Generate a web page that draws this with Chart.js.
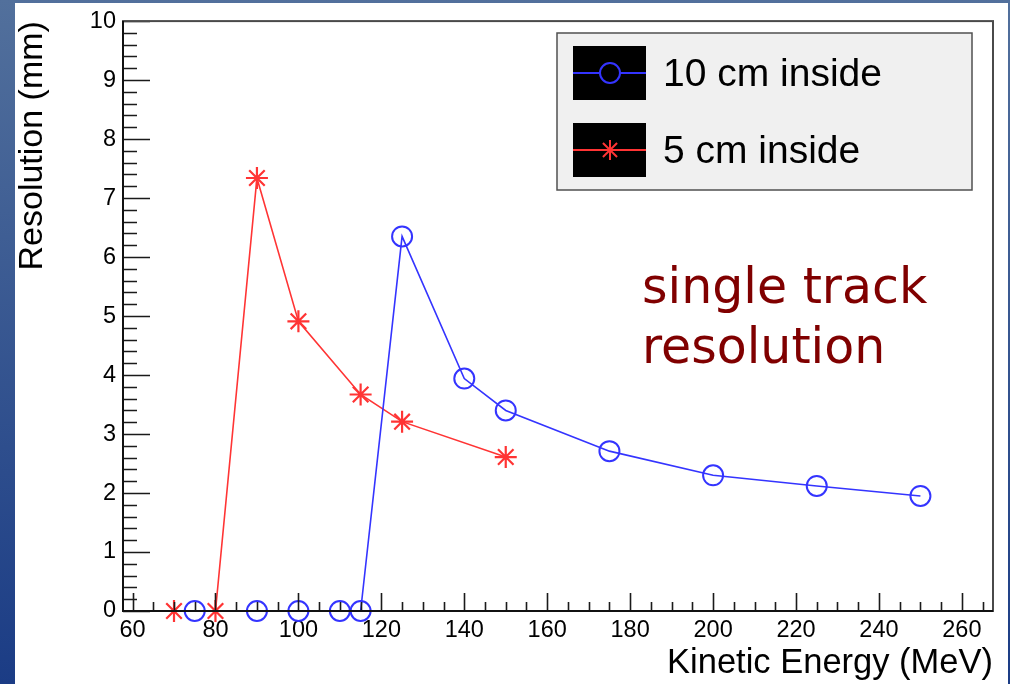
<!DOCTYPE html>
<html>
<head>
<meta charset="utf-8">
<title>Single track resolution</title>
<script src="https://cdn.jsdelivr.net/npm/chart.js@4.4.1/dist/chart.umd.min.js"></script>
<style>
  html, body {
    margin: 0;
    padding: 0;
    width: 1010px;
    height: 684px;
    overflow: hidden;
    background: linear-gradient(to bottom, #52709c, #1b3c85);
  }
  #page {
    position: absolute;
    left: 15px;
    top: 3px;
    width: 993px;
    height: 681px;
    background: #ffffff;
  }
  #resolution-chart {
    position: absolute;
    left: 0;
    top: 0;
  }
</style>
</head>
<body>
<div id="page"></div>
<canvas id="resolution-chart" width="1010" height="684"></canvas>
<script>
// 10 cm inside
const energy10 = [75, 90, 100, 110, 115, 125, 140, 150, 175, 200, 225, 250];
const res10 = [0, 0, 0, 0, 0, 6.35, 3.94, 3.40, 2.71, 2.30, 2.12, 1.95];

// 5 cm inside
const energy5 = [70, 80, 90, 100, 115, 125, 150];
const res5 = [0, 0, 7.34, 4.91, 3.67, 3.21, 2.61];

const xTicks = [60, 80, 100, 120, 140, 160, 180, 200, 220, 240, 260];
const yTicks = [0, 1, 2, 3, 4, 5, 6, 7, 8, 9, 10];
const xMinorStep = 5;
const yMinorStep = 0.2;

const seriesNames = ['10 cm inside', '5 cm inside'];
const noteLines = ['single track', 'resolution'];

const blue = '#3434ff';
const red = '#ff3434';
const axisFont = '"Liberation Sans", Arial, Helvetica, sans-serif';

function toPoints(xs, ys) {
  return xs.map((x, i) => ({ x: x, y: ys[i] }));
}

// ROOT style frame with inward ticks
const rootFrame = {
  id: 'rootFrame',
  afterDatasetsDraw(chart) {
    const { ctx, chartArea: a, scales: { x, y } } = chart;
    ctx.save();
    ctx.strokeStyle = '#1a1a1a';
    ctx.lineWidth = 1.6;
    ctx.beginPath();
    for (let v = xTicks[0]; v <= x.max; v += xMinorStep) {
      const px = Math.round(x.getPixelForValue(v)) + 0.5;
      const len = xTicks.includes(v) ? 18 : 9;
      ctx.moveTo(px, a.bottom);
      ctx.lineTo(px, a.bottom - len);
    }
    for (let i = 0; i <= Math.round((y.max - y.min) / yMinorStep); i++) {
      const v = y.min + i * yMinorStep;
      const py = Math.round(y.getPixelForValue(v)) + 0.5;
      const len = Math.abs(v - Math.round(v)) < 1e-6 ? 27 : 14;
      ctx.moveTo(a.left, py);
      ctx.lineTo(a.left + len, py);
    }
    ctx.stroke();

    ctx.lineWidth = 2;
    ctx.strokeStyle = '#4a4a4a';
    ctx.strokeRect(a.left, a.top, a.right - a.left, a.bottom - a.top);
    ctx.strokeStyle = '#111111';
    ctx.beginPath();
    ctx.moveTo(a.left, a.top);
    ctx.lineTo(a.left, a.bottom);
    ctx.lineTo(a.right, a.bottom);
    ctx.stroke();
    ctx.restore();
  },
  afterDraw(chart) {
    const ctx = chart.ctx;
    ctx.save();

    // legend box
    ctx.fillStyle = '#f0f0f0';
    ctx.fillRect(557, 33, 415, 157);
    ctx.strokeStyle = '#505050';
    ctx.lineWidth = 1.5;
    ctx.strokeRect(557, 33, 415, 157);

    chart.data.datasets.forEach((ds, i) => {
      const top = 46 + i * 77;
      const mid = top + 27;
      ctx.fillStyle = '#000000';
      ctx.fillRect(573, top, 73, 54);
      ctx.strokeStyle = ds.borderColor;
      ctx.lineWidth = 2;
      ctx.beginPath();
      ctx.moveTo(573, mid);
      ctx.lineTo(646, mid);
      ctx.stroke();
      Chart.helpers.drawPoint(ctx, {
        pointStyle: ds.pointStyle,
        radius: 10,
        borderWidth: 2,
        rotation: 0
      }, 610, mid);
      ctx.fillStyle = '#000000';
      ctx.font = '39px ' + axisFont;
      ctx.textAlign = 'left';
      ctx.textBaseline = 'middle';
      ctx.fillText(ds.label, 663, mid + 2);
    });

    // annotation
    ctx.fillStyle = '#800000';
    ctx.font = '49px "Comic Sans MS", "DejaVu Sans", sans-serif';
    ctx.textAlign = 'left';
    ctx.textBaseline = 'alphabetic';
    noteLines.forEach((line, i) => {
      ctx.fillText(line, 642, 303 + i * 60);
    });
    ctx.restore();
  }
};

const ctx = document.getElementById('resolution-chart').getContext('2d');

const data = {
  datasets: [{
    label: seriesNames[0],
    data: toPoints(energy10, res10),
    borderColor: blue,
    borderWidth: 1.6,
    pointStyle: 'circle',
    pointRadius: 10,
    pointBorderWidth: 2,
    pointBorderColor: blue,
    pointBackgroundColor: 'rgba(0,0,0,0)',
    tension: 0,
    clip: false,
    fill: false
  }, {
    label: seriesNames[1],
    data: toPoints(energy5, res5),
    borderColor: red,
    borderWidth: 1.6,
    pointStyle: 'star',
    pointRadius: 11,
    pointBorderWidth: 2.2,
    pointBorderColor: red,
    pointBackgroundColor: red,
    tension: 0,
    clip: false,
    fill: false
  }]
};

const config = {
  type: 'line',
  data: data,
  options: {
    responsive: false,
    animation: false,
    layout: {
      padding: { top: 20, right: 17, left: 0, bottom: 0 }
    },
    plugins: {
      legend: { display: false },
      tooltip: { enabled: false }
    },
    elements: {
      point: { hoverRadius: 10 }
    },
    scales: {
      x: {
        type: 'linear',
        min: 57.7,
        max: 267.5,
        afterBuildTicks: (scale) => {
          scale.ticks = xTicks.map(v => ({ value: v }));
        },
        afterFit: (scale) => {
          scale.height = 73;
        },
        grid: { display: false, drawTicks: false },
        border: { display: false },
        ticks: {
          color: '#000000',
          padding: 5,
          maxRotation: 0,
          autoSkip: false,
          font: { family: axisFont, size: 23.5 }
        },
        title: {
          display: true,
          text: 'Kinetic Energy (MeV)',
          align: 'end',
          color: '#000000',
          padding: { top: 0, bottom: 0 },
          font: { family: axisFont, size: 34.5 }
        }
      },
      y: {
        type: 'linear',
        min: 0,
        max: 10,
        afterBuildTicks: (scale) => {
          scale.ticks = yTicks.map(v => ({ value: v }));
        },
        afterFit: (scale) => {
          scale.width = 123;
        },
        grid: { display: false, drawTicks: false },
        border: { display: false },
        ticks: {
          color: '#000000',
          padding: 7,
          font: { family: axisFont, size: 23.5 }
        },
        title: {
          display: true,
          text: 'Resolution (mm)',
          align: 'end',
          color: '#000000',
          padding: { top: 12, bottom: 0 },
          font: { family: axisFont, size: 34 }
        }
      }
    }
  },
  plugins: [rootFrame]
};

const resolutionChart = new Chart(ctx, config);
</script>
</body>
</html>
